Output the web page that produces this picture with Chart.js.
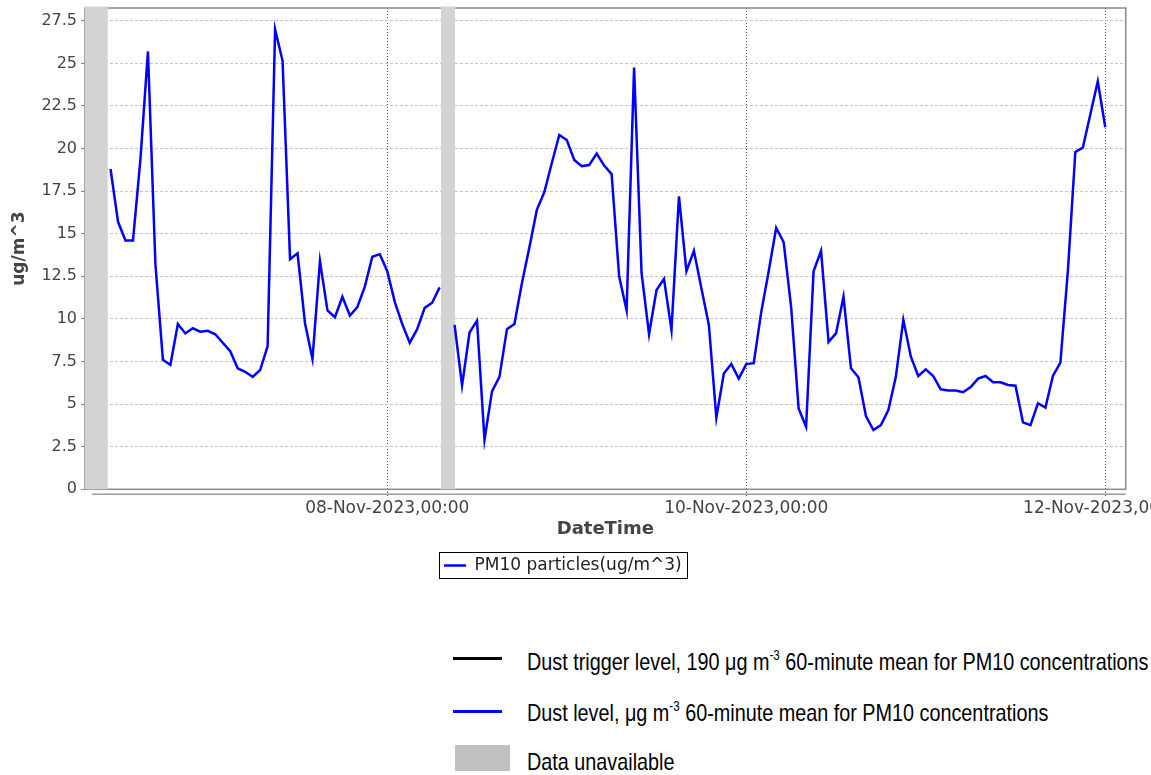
<!DOCTYPE html>
<html>
<head>
<meta charset="utf-8">
<title>PM10 particles</title>
<script src="https://cdn.jsdelivr.net/npm/chart.js@4.4.0/dist/chart.umd.min.js"></script>
<style>
  html, body { margin: 0; padding: 0; background: #fff; }
  #wrap { position: relative; width: 1151px; height: 775px; overflow: hidden; }
  #chart { position: absolute; left: 0; top: 0; }
  .sw { position: absolute; }
  .key {
    position: absolute; left: 527px; height: 30px; line-height: 30px;
    font-family: "Liberation Sans", Arial, sans-serif;
    font-size: 24px; color: #000; white-space: nowrap;
    transform: scaleX(0.825); transform-origin: left center;
  }
  .key sup { font-size: 14px; line-height: 0; vertical-align: 10px; }
</style>
</head>
<body>
<div id="wrap">
  <canvas id="chart" width="1151" height="590"></canvas>

  <div class="sw" style="left:453px; top:657px; width:49px; height:3px; background:#000;"></div>
  <div class="key" style="top:647px;">Dust trigger level, 190 μg m<sup>-3</sup> 60-minute mean for PM10 concentrations</div>

  <div class="sw" style="left:453px; top:710px; width:49px; height:3px; background:#0000ff;"></div>
  <div class="key" style="top:698px;">Dust level, μg m<sup>-3</sup> 60-minute mean for PM10 concentrations</div>

  <div class="sw" style="left:455px; top:745px; width:55px; height:26px; background:#c0c0c0;"></div>
  <div class="key" style="top:747px;">Data unavailable</div>
</div>

<script>
// hourly PM10 readings, first one at 06-Nov-2023 11:00 (null = no reading)
const FIRST_READING = '2023-11-06T11:00Z';
const HOUR = 3600 * 1000;

const pm10 = [
  18.8, 15.7, 14.6, 14.6, 19.4, 25.7, 13.2, 7.6, 7.3, 9.7,
  9.15, 9.45, 9.25, 9.3, 9.1, 8.6, 8.1, 7.1, 6.9, 6.6,
  7.0, 8.4, 27.0, 25.15, 13.5, 13.85, 9.75, 7.65, 13.4, 10.5,
  10.1, 11.3, 10.2, 10.7, 11.9, 13.65, 13.8, 12.8, 11.0, 9.7,
  8.6, 9.4, 10.65, 10.95, 11.85, null, 9.65, 6.1, 9.2, 9.9,
  2.9, 5.75, 6.6, 9.4, 9.7, 12.1, 14.2, 16.4, 17.45, 19.15,
  20.8, 20.5, 19.33, 18.97, 19.03, 19.7, 19.0, 18.5, 12.5, 10.5,
  24.75, 12.7, 9.1, 11.7, 12.35, 9.35, 17.2, 12.8, 14.0, 11.8,
  9.65, 4.2, 6.8, 7.35, 6.5, 7.35, 7.4, 10.4, 12.8, 15.35,
  14.5, 10.7, 4.75, 3.67, 12.8, 14.0, 8.65, 9.15, 11.3, 7.1,
  6.58, 4.3, 3.48, 3.77, 4.65, 6.6, 9.95, 7.8, 6.65, 7.04,
  6.65, 5.87, 5.8, 5.8, 5.7, 6.0, 6.5, 6.65, 6.28, 6.28,
  6.12, 6.08, 3.93, 3.77, 5.05, 4.8, 6.65, 7.43, 12.8, 19.8,
  20.05, 22.0, 23.95, 21.25
];

// periods shaded as "data unavailable"
const unavailable = [
  ['2023-11-06T07:35Z', '2023-11-06T10:37Z'],
  ['2023-11-08T07:11Z', '2023-11-08T09:03Z']
];

const X_RANGE = ['2023-11-06T07:35Z', '2023-11-12T02:44Z'];
const dayTicks = ['2023-11-08T00:00Z', '2023-11-10T00:00Z', '2023-11-12T00:00Z'];
const Y_MAX = 28.25;
const Y_STEP = 2.5;

const MONTHS = ['Jan', 'Feb', 'Mar', 'Apr', 'May', 'Jun', 'Jul', 'Aug', 'Sep', 'Oct', 'Nov', 'Dec'];
const pad = n => String(n).padStart(2, '0');
function fmtTime(ms) {
  const d = new Date(ms);
  return pad(d.getUTCDate()) + '-' + MONTHS[d.getUTCMonth()] + '-' + d.getUTCFullYear() +
    ',' + pad(d.getUTCHours()) + ':' + pad(d.getUTCMinutes());
}

const TICK_COLOR = '#444';
const start = Date.parse(FIRST_READING);

// plot frame, shaded gaps, offset axis line and the legend box
const decor = {
  id: 'decor',
  beforeDatasetsDraw(chart) {
    const { ctx, chartArea: a, scales: { x } } = chart;
    ctx.save();
    ctx.strokeStyle = '#8a8a8a';
    ctx.lineWidth = 1.5;
    ctx.strokeRect(a.left, a.top, a.right - a.left, a.bottom - a.top);
    ctx.fillStyle = '#d3d3d3';
    unavailable.forEach(([from, to]) => {
      const x0 = Math.max(a.left, x.getPixelForValue(Date.parse(from)));
      const x1 = Math.min(a.right, x.getPixelForValue(Date.parse(to)));
      ctx.fillRect(x0, a.top - 1.5, x1 - x0, a.bottom - a.top + 1.5);
    });
    ctx.restore();
  },
  afterDraw(chart) {
    const { ctx, chartArea: a } = chart;
    ctx.save();
    ctx.strokeStyle = '#9a9a9a';
    ctx.lineWidth = 1.5;
    ctx.beginPath();
    ctx.moveTo(a.left + 7, a.bottom + 5);
    ctx.lineTo(a.right, a.bottom + 5);
    ctx.stroke();
    const hb = chart.legend && chart.legend.legendHitBoxes[0];
    if (hb) {
      ctx.strokeStyle = '#000';
      ctx.lineWidth = 1;
      ctx.strokeRect(Math.round(hb.left - 5) + 0.5, Math.round(hb.top - 5) + 0.5,
        Math.round(hb.width + 10), Math.round(hb.height + 9));
    }
    ctx.restore();
  }
};

new Chart(document.getElementById('chart'), {
  type: 'line',
  data: {
    datasets: [{
      label: 'PM10 particles(ug/m^3)',
      data: pm10.map((v, i) => ({ x: start + i * HOUR, y: v })),
      borderColor: '#0000ff',
      backgroundColor: '#0000ff',
      borderWidth: 2.5,
      pointRadius: 0,
      tension: 0,
      spanGaps: false,
      fill: false
    }]
  },
  options: {
    responsive: false,
    animation: false,
    layout: { padding: { left: 0, top: 8, right: 25.3, bottom: 6 } },
    plugins: {
      legend: {
        position: 'bottom',
        labels: {
          usePointStyle: true,
          pointStyle: 'line',
          pointStyleWidth: 22,
          padding: 10,
          color: '#222',
          font: { family: 'DejaVu Sans', size: 17 }
        }
      },
      tooltip: { enabled: false }
    },
    scales: {
      x: {
        type: 'linear',
        min: Date.parse(X_RANGE[0]),
        max: Date.parse(X_RANGE[1]),
        afterBuildTicks: s => { s.ticks = dayTicks.map(t => ({ value: Date.parse(t) })); },
        afterFit: s => { s.height = 57.7; s.paddingLeft = 0; s.paddingRight = 0; },
        ticks: {
          callback: v => fmtTime(v),
          autoSkip: false,
          maxRotation: 0,
          padding: 1,
          color: TICK_COLOR,
          font: { family: 'DejaVu Sans', size: 17 }
        },
        grid: { color: '#555', lineWidth: 1, tickLength: 8, tickColor: '#555', tickBorderDash: [1, 2] },
        border: { display: false, dash: [1, 2] },
        title: {
          display: true,
          text: 'DateTime',
          color: TICK_COLOR,
          font: { family: 'DejaVu Sans', size: 18, weight: 'bold' },
          padding: { top: 0, bottom: 7 }
        }
      },
      y: {
        min: 0,
        max: Y_MAX,
        afterFit: s => { s.width = 85; s.paddingTop = 0; s.paddingBottom = 0; },
        ticks: {
          stepSize: Y_STEP,
          includeBounds: false,
          callback: v => String(v),
          padding: 4,
          color: TICK_COLOR,
          font: { family: 'DejaVu Sans', size: 16 }
        },
        grid: { color: '#c4c4c4', lineWidth: 1, tickLength: 4, tickColor: '#888', tickBorderDash: [] },
        border: { display: false, dash: [3, 2] },
        title: {
          display: true,
          text: 'ug/m^3',
          color: TICK_COLOR,
          font: { family: 'DejaVu Sans', size: 17, weight: 'bold' },
          padding: { top: 9, bottom: 0 }
        }
      }
    }
  },
  plugins: [decor]
});
</script>
</body>
</html>
